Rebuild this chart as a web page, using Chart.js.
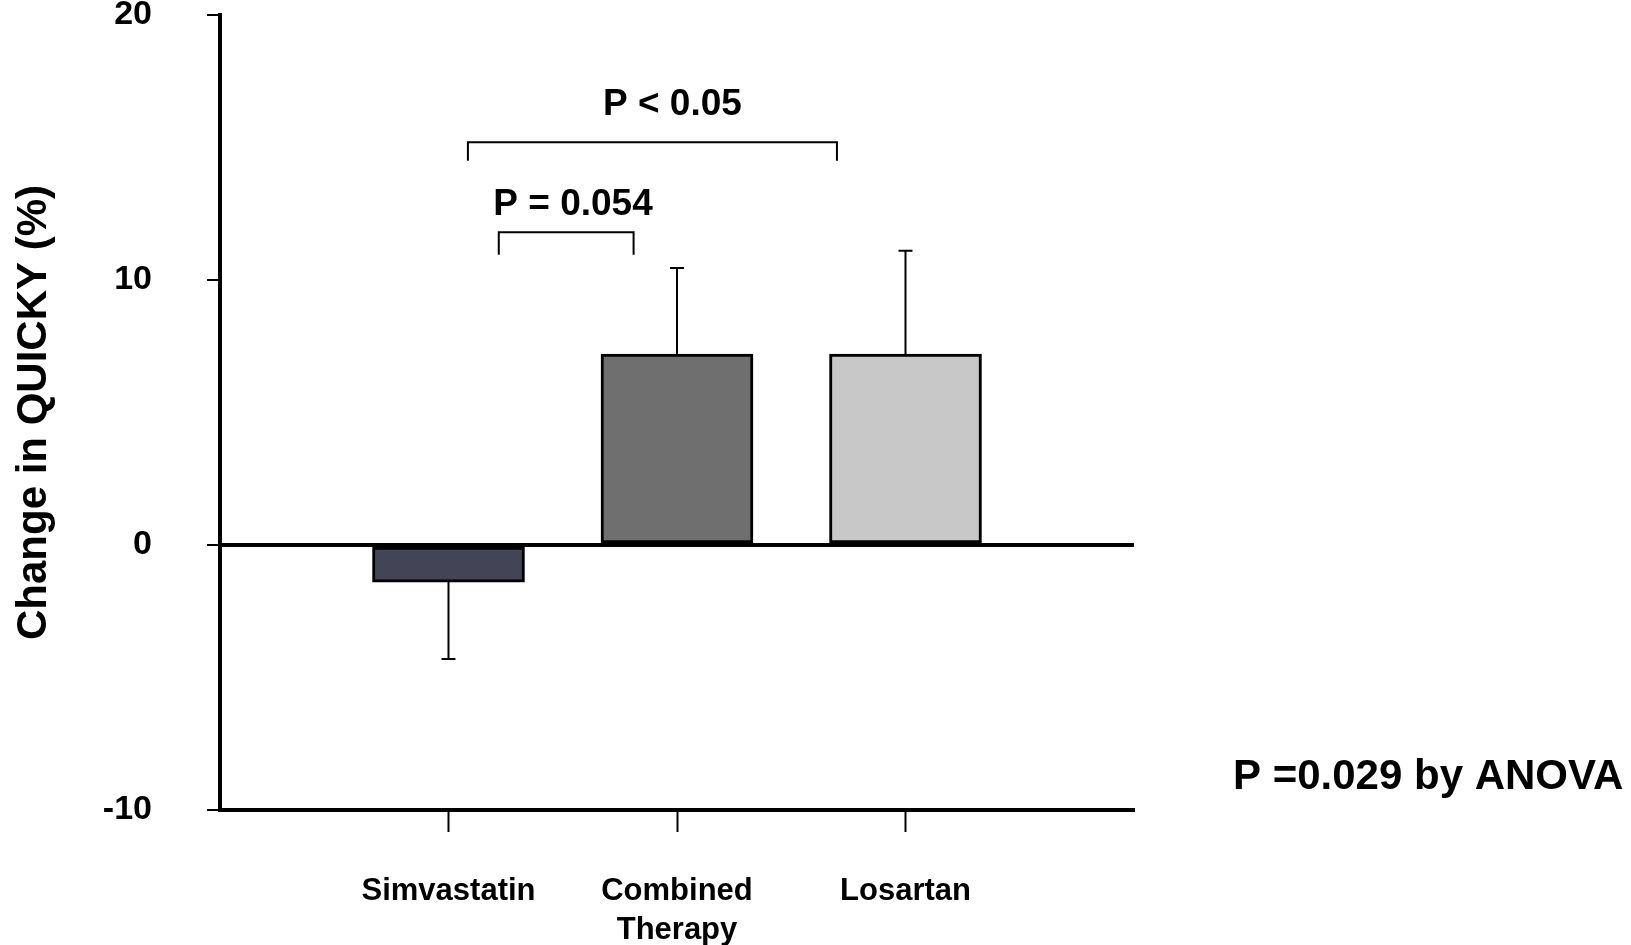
<!DOCTYPE html>
<html>
<head>
<meta charset="utf-8">
<title>Change in QUICKY</title>
<script src="https://cdn.jsdelivr.net/npm/chart.js@4.4.1/dist/chart.umd.min.js"></script>
<style>
  html, body { margin: 0; padding: 0; background: #fff; }
  canvas { display: block; }
</style>
</head>
<body>
<canvas id="grafico" width="1631" height="945"></canvas>
<script>
// grupos: los huecos a los lados dejan aire en el eje x
const categorias = ["", "Simvastatin", ["Combined", "Therapy"], "Losartan", ""];
const cambios = [null, -1.4, 7.2, 7.2, null];
const errores = [null, 2.9, 3.25, 3.9, null];
const colores = ["#fff", "#434455", "#6f6f6f", "#c8c8c8", "#fff"];

// eje y
const marcasY = [-10, 0, 10, 20];

// comparaciones entre grupos (en unidades de los ejes)
const pTextos = ["P < 0.05", "P = 0.054"];
const pDesde = [1.085, 1.22];
const pHasta = [2.70, 1.81];
const pNivel = [15.2, 11.8];
const pPata = [0.7, 0.85];
const pTextoX = [1.98, 1.545];
const pTextoY = [16.6, 12.85];

const anova = "P =0.029 by ANOVA";

const fuente = "'Liberation Sans', Arial, sans-serif";
Chart.defaults.font.family = fuente;
Chart.defaults.color = "#000";

// barras de error: solo hacia afuera del cero
const barrasError = {
    id: "barrasError",
    afterDatasetsDraw(chart) {
        const { ctx } = chart;
        const y = chart.scales.y;
        const meta = chart.getDatasetMeta(0);
        ctx.save();
        ctx.strokeStyle = "#000";
        ctx.lineWidth = 2;
        meta.data.forEach((bar, i) => {
            const v = cambios[i];
            const e = errores[i];
            if (v == null || e == null) return;
            const fin = v < 0 ? v - e : v + e;
            const y0 = y.getPixelForValue(v);
            const y1 = y.getPixelForValue(fin);
            ctx.beginPath();
            ctx.moveTo(bar.x, y0);
            ctx.lineTo(bar.x, y1);
            ctx.moveTo(bar.x - 7, y1);
            ctx.lineTo(bar.x + 7, y1);
            ctx.stroke();
        });
        ctx.restore();
    }
};

// corchetes con su valor P y la nota del ANOVA
const comparaciones = {
    id: "comparaciones",
    afterDraw(chart) {
        const { ctx, chartArea } = chart;
        const { x, y } = chart.scales;
        ctx.save();
        ctx.strokeStyle = "#000";
        ctx.fillStyle = "#000";
        ctx.lineWidth = 2;
        pTextos.forEach((t, i) => {
            const x0 = x.getPixelForValue(pDesde[i]);
            const x1 = x.getPixelForValue(pHasta[i]);
            const yn = y.getPixelForValue(pNivel[i]);
            const yp = y.getPixelForValue(pNivel[i] - pPata[i]);
            ctx.beginPath();
            ctx.moveTo(x0, yp);
            ctx.lineTo(x0, yn);
            ctx.lineTo(x1, yn);
            ctx.lineTo(x1, yp);
            ctx.stroke();

            ctx.font = "bold 37px " + fuente;
            ctx.textAlign = "center";
            ctx.textBaseline = "middle";
            ctx.fillText(t, x.getPixelForValue(pTextoX[i]), y.getPixelForValue(pTextoY[i]));
        });

        ctx.font = "bold 42px " + fuente;
        ctx.textAlign = "left";
        ctx.textBaseline = "middle";
        ctx.fillText(anova, chartArea.right + 99, chartArea.bottom - 33);
        ctx.restore();
    }
};

new Chart(document.getElementById("grafico"), {
    type: "bar",
    data: {
        labels: categorias,
        datasets: [{
            data: cambios,
            backgroundColor: colores,
            borderColor: "#000",
            borderWidth: 3,
            borderSkipped: false,
            barThickness: 152
        }]
    },
    options: {
        responsive: false,
        animation: false,
        layout: { padding: { top: 15, right: 497, bottom: 0, left: 0 } },
        plugins: {
            legend: { display: false },
            tooltip: { enabled: false }
        },
        scales: {
            x: {
                offset: false,
                ticks: {
                    autoSkip: false,
                    maxRotation: 0,
                    padding: 40,
                    font: { size: 31, weight: "bold", lineHeight: 1.25 }
                },
                grid: {
                    offset: false,
                    drawOnChartArea: false,
                    color: "transparent",
                    tickLength: 22,
                    tickWidth: 2,
                    tickColor: (c) => (c.index === 0 || c.index === categorias.length - 1) ? "transparent" : "#000"
                },
                border: { color: "#000", width: 4 },
                afterFit(s) {
                    s.height = 135;
                    s.paddingLeft = 0;
                    s.paddingRight = 0;
                }
            },
            y: {
                min: marcasY[0],
                max: marcasY[marcasY.length - 1],
                afterBuildTicks(s) { s.ticks = marcasY.map(v => ({ value: v })); },
                ticks: {
                    padding: 55,
                    font: { size: 34, weight: "bold" }
                },
                grid: {
                    color: (c) => (c.tick && c.tick.value === 0) ? "#000" : "transparent",
                    lineWidth: 4,
                    tickLength: 13,
                    tickWidth: 2,
                    tickColor: "#000"
                },
                border: { color: "#000", width: 4 },
                title: {
                    display: true,
                    text: "Change in QUICKY (%)",
                    font: { size: 42, weight: "bold" },
                    padding: { top: 9, bottom: 0 }
                },
                afterFit(s) {
                    s.width = 220;
                    s.paddingTop = 0;
                    s.paddingBottom = 0;
                }
            }
        }
    },
    plugins: [barrasError, comparaciones]
});
</script>
</body>
</html>
